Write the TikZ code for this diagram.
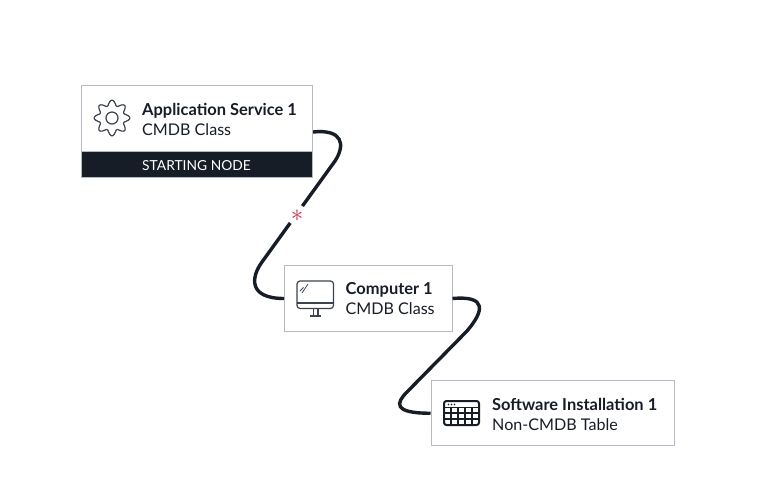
\documentclass[tikz,border=0pt]{standalone}
\usepackage{fontspec}
\setmainfont{Lato}
\definecolor{ink}{HTML}{171D27}
\definecolor{edge}{HTML}{B4B9C6}
\definecolor{iconc}{HTML}{3C434E}
\definecolor{starc}{HTML}{C8324E}
\tikzset{
  box/.style={draw=edge,line width=1pt,fill=white,inner sep=0pt},
  titletext/.style={anchor=base west,inner sep=0pt,text=ink,font=\fontsize{16.45}{17}\selectfont\bfseries},
  subtext/.style={anchor=base west,inner sep=0pt,text=ink,font=\fontsize{16.1}{17}\selectfont},
  link/.style={draw=ink,line width=3.4pt},
  iconline/.style={draw=iconc,line width=1.2pt},
  tableline/.style={draw=ink,line width=1.5pt}
}
\begin{document}
\begin{tikzpicture}[x=1pt,y=-1pt]
\useasboundingbox (0,0) rectangle (758,478);
\fill[white] (0,0) rectangle (758,478);
\node[box,minimum width=231.5pt,minimum height=92pt] (app) at (196.75,132) {};
\node[box,minimum width=167.5pt,minimum height=66pt] (comp) at (368.25,298.5) {};
\node[box,minimum width=243pt,minimum height=64.5pt] (soft) at (552.5,413.25) {};
\draw[link] (app.east) .. controls +(29,-3) and +(11,-17) .. (335,161)
  -- (262,262) .. controls +(-11,15) and +(-36,0) .. (comp.west);
\draw[link] (comp.east) .. controls +(35,-3) and +(17,-20) .. (467,331)
  -- (407,392) .. controls +(-11,11) and +(-38,0) .. (soft.west);
\node[fill=white,circle,inner sep=0pt,minimum size=21pt] (mark) at (297,215) {};
\node[inner sep=0pt,text=starc,font=\fontsize{25}{25}\selectfont] (markstar) at (297,215.5) {$\ast$};
\node[box,fill=none,minimum width=231.5pt,minimum height=92pt] (appedge) at (196.75,132) {};
\node[draw=edge,line width=1pt,fill=ink,inner sep=0pt,minimum width=231.5pt,minimum height=26pt] (band) at (196.75,165) {};
\node[inner sep=0pt,text=white,font=\fontsize{13.8}{14}\selectfont] (bandtext) at (196.5,165.5) {STARTING NODE};
\node[titletext] (t1) at (142,115.5) {Application Service 1};
\node[subtext] (s1) at (142,136) {CMDB Class};
\node[titletext] (t2) at (345.5,294.5) {Computer 1};
\node[subtext] (s2) at (345.5,315) {CMDB Class};
\node[titletext] (t3) at (492,410) {Software Installation 1};
\node[subtext] (s3) at (492,430) {Non-CMDB Table};
% gear icon
\draw[iconline] plot[domain=0:360,samples=161,smooth] ({112+(15.2+2.6*cos(8*\x))*cos(\x)},{118+(15.2+2.6*cos(8*\x))*sin(\x)}) -- cycle;
\draw[iconline] (112,118) circle (6);
% monitor icon
\draw[iconline,rounded corners=3pt] (297,281) rectangle (333.5,308.5);
\draw[iconline] (297,303) -- (333.5,303);
\draw[iconline,line width=0.8pt] (300,291) -- (303.5,287.5) (302,293) -- (308,284);
\draw[iconline] (313.5,309) -- (313.5,316) (318,309) -- (318,316) (309.5,316) -- (321,316);
% table icon
\draw[tableline,rounded corners=2.5pt,line width=2pt] (444,401) rectangle (479,425);
\draw[tableline] (444,407.5) -- (479,407.5) (444,413) -- (479,413) (444,419) -- (479,419);
\draw[tableline] (451,407.5) -- (451,425) (458,407.5) -- (458,425) (465,407.5) -- (465,425) (472,407.5) -- (472,425);
\fill[ink] (448.5,404.5) circle (0.9) (451.5,404.5) circle (0.9) (454.5,404.5) circle (0.9);
\end{tikzpicture}
\end{document}
